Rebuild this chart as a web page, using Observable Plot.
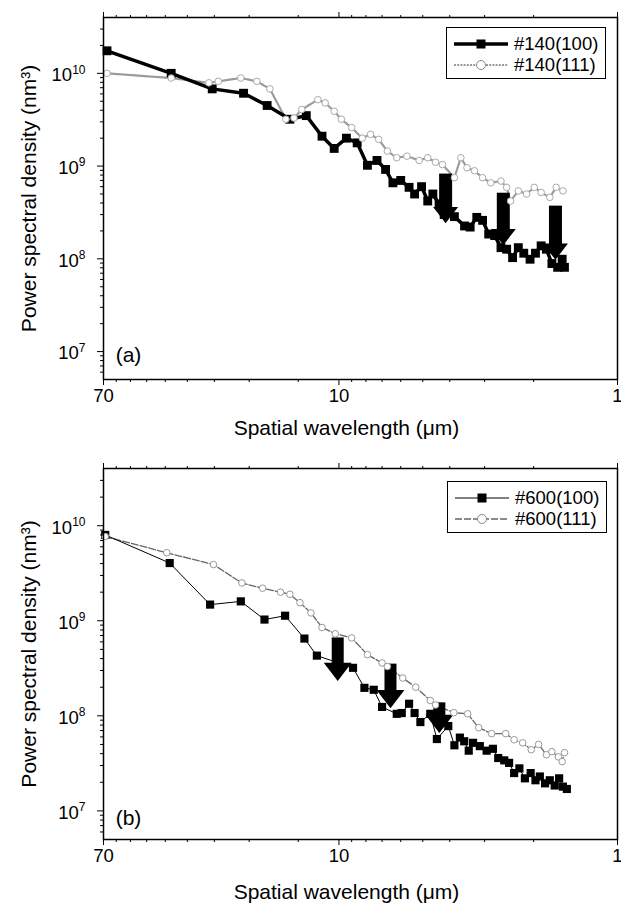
<!DOCTYPE html>
<html><head><meta charset="utf-8"><title>Power spectral density</title>
<script src="https://cdn.jsdelivr.net/npm/d3@7"></script>
<script src="https://cdn.jsdelivr.net/npm/@observablehq/plot@0.6"></script>
<style>
html,body{margin:0;padding:0;background:#fff;}
body{width:621px;height:909px;overflow:hidden;font-family:"Liberation Sans",Arial,Helvetica,sans-serif;}
.panel{position:relative;width:621px;}
.panel svg{display:block;}
.legend{position:absolute;border:1.5px solid #000;background:#fff;box-sizing:border-box;}
.row{position:absolute;left:0;display:flex;align-items:center;height:20px;margin-top:-10px;}
.row svg{margin-left:7px;}
.row span{font-size:18.5px;color:#000;margin-left:6px;white-space:nowrap;line-height:20px;}
</style></head><body>
<div id="pa" class="panel"></div>
<div id="pb" class="panel"></div>
<script>
// ---------- data (wavelength in µm, PSD in nm^3) ----------
const wlA100 = [68, 40, 28.5, 22, 18.1, 15, 13.1, 11.5, 10.4, 9.4, 8.6, 7.9, 7.3, 6.8, 6.4, 6.0, 5.6, 5.35, 5.05, 4.8, 4.6, 4.37, 4.19, 3.85, 3.54, 3.38, 3.2, 3.05, 2.9, 2.76, 2.62, 2.5, 2.38, 2.27, 2.17, 2.06, 1.97, 1.88, 1.8, 1.72, 1.64, 1.58, 1.55];
const psdA100 = [1.75e10, 1.0e10, 6.8e9, 6.1e9, 4.5e9, 3.2e9, 3.5e9, 2.1e9, 1.55e9, 2.0e9, 1.78e9, 1.02e9, 1.15e9, 9.2e8, 6.6e8, 7.0e8, 5.9e8, 5.0e8, 6.0e8, 4.2e8, 5.0e8, 3.9e8, 3.0e8, 2.85e8, 2.26e8, 2.2e8, 2.8e8, 2.6e8, 1.85e8, 1.78e8, 1.32e8, 1.27e8, 1.03e8, 1.32e8, 1.15e8, 9.9e7, 1.15e8, 1.38e8, 1.27e8, 8.9e7, 8.1e7, 9.9e7, 8.1e7];
const wlA111 = [68, 40, 29.3, 27.1, 22.5, 19.7, 17.7, 15.5, 14.5, 13.6, 11.9, 11.2, 10.4, 9.8, 9.0, 8.25, 7.7, 7.2, 6.7, 6.2, 5.7, 5.15, 4.8, 4.5, 4.25, 3.85, 3.65, 3.47, 3.26, 3.05, 2.85, 2.62, 2.5, 2.42, 2.27, 2.12, 1.99, 1.88, 1.75, 1.66, 1.57];
const psdA111 = [1.0e10, 8.9e9, 7.9e9, 8.2e9, 8.9e9, 8.2e9, 6.8e9, 3.2e9, 3.3e9, 4.07e9, 5.2e9, 4.8e9, 3.9e9, 3.2e9, 2.6e9, 2.0e9, 2.2e9, 1.94e9, 1.45e9, 1.23e9, 1.28e9, 1.15e9, 1.23e9, 1.1e9, 1.04e9, 7.5e8, 1.23e9, 9.6e8, 8.9e8, 7.5e8, 6.6e8, 6.9e8, 5.9e8, 4.2e8, 5.4e8, 5.0e8, 5.9e8, 5.2e8, 4.6e8, 5.9e8, 5.4e8];
const wlB100 = [69, 40.5, 29, 22.5, 18.5, 15.6, 13.3, 12.0, 8.9, 8.1, 7.5, 7.0, 6.2, 5.95, 5.6, 5.35, 5.1, 4.7, 4.45, 4.05, 3.85, 3.68, 3.55, 3.42, 3.3, 3.12, 2.95, 2.8, 2.68, 2.55, 2.45, 2.35, 2.25, 2.15, 2.05, 1.97, 1.9, 1.82, 1.75, 1.68, 1.62, 1.57, 1.52];
const psdB100 = [8.0e9, 4.05e9, 1.48e9, 1.6e9, 1.03e9, 1.13e9, 6.5e8, 4.3e8, 3.2e8, 1.97e8, 1.88e8, 1.24e8, 1.05e8, 1.07e8, 1.34e8, 1.07e8, 8.6e7, 1.05e8, 5.7e7, 7.8e7, 4.9e7, 5.9e7, 5.4e7, 4.3e7, 5.2e7, 4.8e7, 4.3e7, 4.5e7, 3.6e7, 3.4e7, 3.2e7, 2.5e7, 2.8e7, 2.2e7, 2.5e7, 2.1e7, 2.3e7, 1.95e7, 2.1e7, 1.85e7, 2.2e7, 1.8e7, 1.7e7];
const wlB111 = [69, 41.5, 28.2, 22.3, 18.8, 16.2, 15.0, 13.8, 12.6, 11.5, 10.3, 9.0, 7.9, 7.0, 6.7, 5.9, 5.3, 4.7, 4.5, 3.87, 3.45, 3.15, 2.83, 2.52, 2.35, 2.19, 2.04, 1.92, 1.8, 1.72, 1.63, 1.58, 1.55];
const psdB111 = [7.7e9, 5.2e9, 3.9e9, 2.5e9, 2.2e9, 2.0e9, 1.9e9, 1.55e9, 1.21e9, 8.5e8, 7.3e8, 6.6e8, 4.4e8, 3.6e8, 3.3e8, 2.5e8, 2.0e8, 1.45e8, 1.3e8, 1.08e8, 1.05e8, 7.5e7, 6.5e7, 6.5e7, 5.6e7, 5.2e7, 4.4e7, 5.0e7, 3.9e7, 4.2e7, 3.7e7, 3.3e7, 4.1e7];

// downward arrows (wavelength, PSD at top of shaft, PSD at head)
const arrowAWl = [4.14, 2.57, 1.67];
const arrowATop = [8.2e8, 5.1e8, 3.7e8];
const arrowAHead = [3.1e8, 1.8e8, 1.25e8];
const arrowBWl = [10.1, 6.53, 4.36];
const arrowBTop = [6.6e8, 3.5e8, 1.37e8];
const arrowBHead = [3.05e8, 1.58e8, 8.65e7];

// ticks and labels
const xMajor = [70, 10, 1];
const xMinor = [63, 56, 49, 42, 35, 28, 21, 14, 9, 8, 7, 6, 5, 4, 3, 2];
const yMajor = [1e7, 1e8, 1e9, 1e10];
const yMinor = [6e6, 7e6, 8e6, 9e6, 2e7, 3e7, 4e7, 5e7, 6e7, 7e7, 8e7, 9e7, 2e8, 3e8, 4e8, 5e8, 6e8, 7e8, 8e8, 9e8, 2e9, 3e9, 4e9, 5e9, 6e9, 7e9, 8e9, 9e9, 2e10, 3e10];
const xTitle = "Spatial wavelength (\u03bcm)";
const yTitle = "Power spectral density (nm\u00b3)";
const seriesA = ["#140(100)", "#140(111)"];
const seriesB = ["#600(100)", "#600(111)"];

const FONT = '"Liberation Sans", Arial, Helvetica, sans-serif';

const headSymbol = {
  draw(ctx, size) {
    const r = Math.sqrt(size / Math.PI);
    ctx.moveTo(-r, -0.5 * r);
    ctx.lineTo(r, -0.5 * r);
    ctx.lineTo(0, 0.8 * r);
    ctx.closePath();
  }
};

function drawPanel(cfg) {
  const d100 = cfg.wl100.map((w, i) => ({w, p: cfg.psd100[i]}));
  const d111 = cfg.wl111.map((w, i) => ({w, p: cfg.psd111[i]}));
  const arr = cfg.arrowWl.map((w, i) => ({w, top: cfg.arrowTop[i], head: cfg.arrowHead[i]}));
  const svg = Plot.plot({
    width: 621, height: cfg.height,
    marginTop: cfg.mt, marginBottom: cfg.mb, marginLeft: 103, marginRight: 4,
    style: {fontFamily: FONT, fontSize: "18.5px", color: "#000", background: "#fff", overflow: "visible"},
    x: {type: "log", domain: [70, 1]},
    y: {type: "log", domain: [5e6, 4e10]},
    marks: [
      Plot.line(d111, {x: "w", y: "p", stroke: cfg.c111, strokeWidth: cfg.w111, strokeDasharray: cfg.dash111}),
      Plot.line(d100, {x: "w", y: "p", stroke: "#000", strokeWidth: cfg.w100}),
      Plot.dot(d100, {x: "w", y: "p", symbol: "square", r: cfg.r100, fill: "#000"}),
      Plot.ruleX(arr, {x: "w", y1: "top", y2: "head", stroke: "#000", strokeWidth: cfg.shaft}),
      Plot.dot(arr, {x: "w", y: "head", symbol: headSymbol, r: cfg.headR, fill: "#000"}),
      Plot.dot(d111, {x: "w", y: "p", symbol: "circle", r: 3.3, fill: "#fff", stroke: cfg.m111, strokeWidth: 1}),
      Plot.frame({stroke: "#000", strokeWidth: 1.5}),
      Plot.axisX({anchor: "bottom", ticks: xMajor, tickSize: 6, tickFormat: () => "", label: null}),
      Plot.axisX({anchor: "bottom", ticks: xMinor, tickSize: 3, tickFormat: () => "", label: null}),
      Plot.axisX({anchor: "top", ticks: xMajor, tickSize: 6, tickFormat: () => "", label: null}),
      Plot.axisX({anchor: "top", ticks: xMinor, tickSize: 3, tickFormat: () => "", label: null}),
      Plot.text(xMajor, {x: d => d, text: d => String(d), frameAnchor: "bottom", textAnchor: "middle", lineAnchor: "top", dy: 9, fontSize: 18.5}),
      Plot.axisY({anchor: "left", ticks: yMajor, tickSize: 6, tickPadding: 12, tickFormat: d => "10^" + Math.round(Math.log10(d)), label: null}),
      Plot.axisY({anchor: "left", ticks: yMinor, tickSize: 3, tickFormat: () => "", label: null}),
      Plot.text([xTitle], {text: d => d, frameAnchor: "bottom", textAnchor: "middle", lineAnchor: "middle", dy: cfg.xTitleDy, dx: -14, fontSize: 21}),
      Plot.text([yTitle], {text: d => d, frameAnchor: "left", textAnchor: "middle", lineAnchor: "middle", rotate: -90, dx: -74, fontSize: 21}),
      Plot.text([cfg.tag], {text: d => d, frameAnchor: "bottom-left", textAnchor: "middle", lineAnchor: "middle", dx: 25, dy: -cfg.tagDy, fontSize: 21})
    ]
  });
  const s = d3.select(svg);
  s.selectAll("text").filter(function () { return this.textContent === ""; }).remove();
  s.selectAll("text").each(function () {
    const m = /^10\^(\d+)$/.exec(this.textContent);
    if (m) {
      const t = d3.select(this);
      t.attr("dy", "0.1em").text("10");
      t.append("tspan").attr("dy", "-0.62em").attr("font-size", "12px").text(m[1]);
    }
  });
  return svg;
}

function swatch(kind) {
  const w = 54, h = 16, cy = 8;
  const sv = d3.create("svg").attr("width", w).attr("height", h);
  if (kind === "a100" || kind === "b100") {
    sv.append("line").attr("x1", 0).attr("x2", w).attr("y1", cy).attr("y2", cy)
      .attr("stroke", "#000").attr("stroke-width", kind === "a100" ? 3.5 : 1);
    const sz = 9;
    sv.append("rect").attr("x", w / 2 - sz / 2).attr("y", cy - sz / 2).attr("width", sz).attr("height", sz).attr("fill", "#000");
  } else {
    sv.append("line").attr("x1", 0).attr("x2", w).attr("y1", cy).attr("y2", cy)
      .attr("stroke", kind === "a111" ? "#9a9a9a" : "#666").attr("stroke-width", kind === "a111" ? 2.2 : 1.3)
      .attr("stroke-dasharray", kind === "a111" ? "2,1.2" : "7,2");
    sv.append("circle").attr("cx", w / 2).attr("cy", cy).attr("r", 4.5).attr("fill", "#fff")
      .attr("stroke", "#888").attr("stroke-width", 1);
  }
  return sv.node();
}

function addLegend(container, box, rows) {
  const lg = d3.select(container).append("div").attr("class", "legend")
    .style("left", box.left + "px").style("top", box.top + "px")
    .style("width", box.w + "px").style("height", box.h + "px");
  rows.forEach(r => {
    const row = lg.append("div").attr("class", "row").style("top", r.y + "px");
    row.node().appendChild(swatch(r.kind));
    row.append("span").text(r.label);
  });
}

const pa = document.getElementById("pa");
pa.appendChild(drawPanel({
  wl100: wlA100, psd100: psdA100, wl111: wlA111, psd111: psdA111,
  arrowWl: arrowAWl, arrowTop: arrowATop, arrowHead: arrowAHead,
  height: 455, mt: 17, mb: 76, w100: 3.5, r100: 5, c111: "#9a9a9a", w111: 2.2, dash111: "2,1.2", m111: "#aaa",
  shaft: 13, headR: 12.5, xTitleDy: 49, tag: "(a)", tagDy: 24
}));
addLegend(pa, {left: 446, top: 27, w: 160, h: 52}, [
  {y: 16, kind: "a100", label: seriesA[0]},
  {y: 37, kind: "a111", label: seriesA[1]}
]);

const pb = document.getElementById("pb");
pb.appendChild(drawPanel({
  wl100: wlB100, psd100: psdB100, wl111: wlB111, psd111: psdB111,
  arrowWl: arrowBWl, arrowTop: arrowBTop, arrowHead: arrowBHead,
  height: 454, mt: 13, mb: 70, w100: 1, r100: 4.6, c111: "#666", w111: 1.3, dash111: "7,2", m111: "#999",
  shaft: 12, headR: 14, xTitleDy: 53, tag: "(b)", tagDy: 21
}));
addLegend(pb, {left: 447, top: 26, w: 160, h: 52}, [
  {y: 16, kind: "b100", label: seriesB[0]},
  {y: 37, kind: "b111", label: seriesB[1]}
]);
</script></body></html>
